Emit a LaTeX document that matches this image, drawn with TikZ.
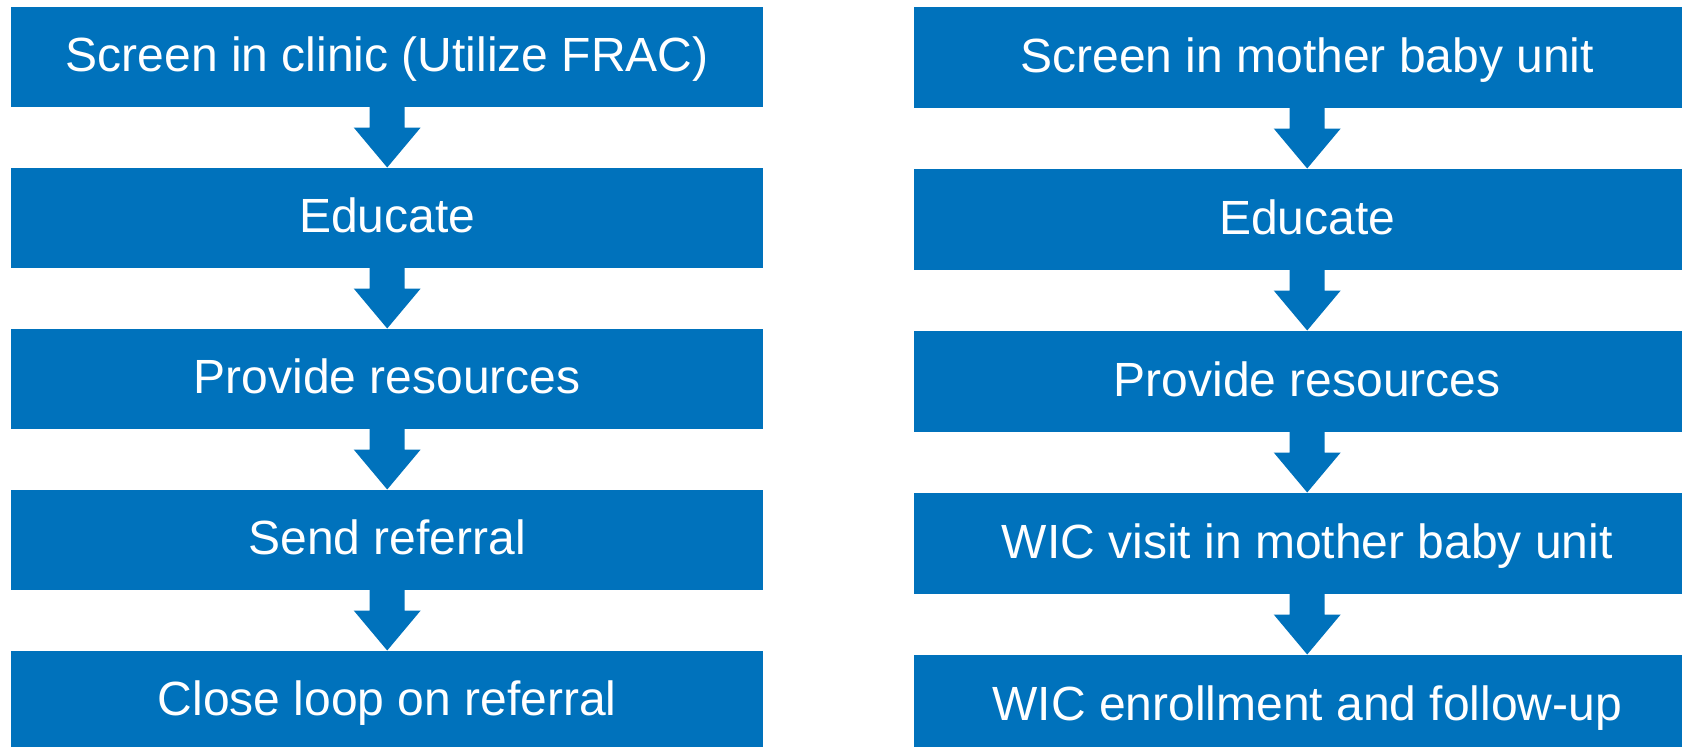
\documentclass[tikz,border=0pt]{standalone}
\usepackage{fontspec}
\setmainfont{Liberation Sans}
\usetikzlibrary{calc}
\definecolor{boxblue}{RGB}{0,114,188}
\tikzset{
  lbox/.style={fill=boxblue, text=white, inner sep=0pt, minimum width=752pt, minimum height=100pt,
    text height=34.4pt, text depth=4pt, anchor=north west, font=\fontsize{48pt}{56pt}\selectfont},
  rbox/.style={lbox, minimum width=786pt, minimum height=101pt},
  blockarrow/.style={fill=boxblue}
}
\newcommand{\myblockarrow}[2]{%
  \fill[blockarrow] ($(#1.south)+(-17.5,-2)$) -- ($(#2.north)+(-17.5,-40)$) -- ($(#2.north)+(-33.5,-40)$)
    -- (#2.north) -- ($(#2.north)+(33.5,-40)$) -- ($(#2.north)+(17.5,-40)$) -- ($(#1.south)+(17.5,-2)$) -- cycle;}
\begin{document}
\begin{tikzpicture}[x=1pt,y=-1pt]
\useasboundingbox (0,0) rectangle (1682,747);
\clip (0,0) rectangle (1682,747);
\node[lbox] (l1) at (11,6.5) {Screen in clinic (Utilize FRAC)};
\node[lbox] (l2) at (11,167.5) {Educate};
\node[lbox] (l3) at (11,328.5) {Provide resources};
\node[lbox] (l4) at (11,489.5) {Send referral};
\node[lbox] (l5) at (11,650.5) {Close loop on referral};
\node[rbox] (r1) at (914,6.5) {Screen in mother baby unit};
\node[rbox] (r2) at (914,168.5) {Educate};
\node[rbox] (r3) at (914,330.5) {Provide resources};
\node[rbox] (r4) at (914,492.5) {WIC visit in mother baby unit};
\node[rbox] (r5) at (914,654.5) {WIC enrollment and follow-up};
\myblockarrow{l1}{l2}
\myblockarrow{l2}{l3}
\myblockarrow{l3}{l4}
\myblockarrow{l4}{l5}
\myblockarrow{r1}{r2}
\myblockarrow{r2}{r3}
\myblockarrow{r3}{r4}
\myblockarrow{r4}{r5}
\end{tikzpicture}
\end{document}
